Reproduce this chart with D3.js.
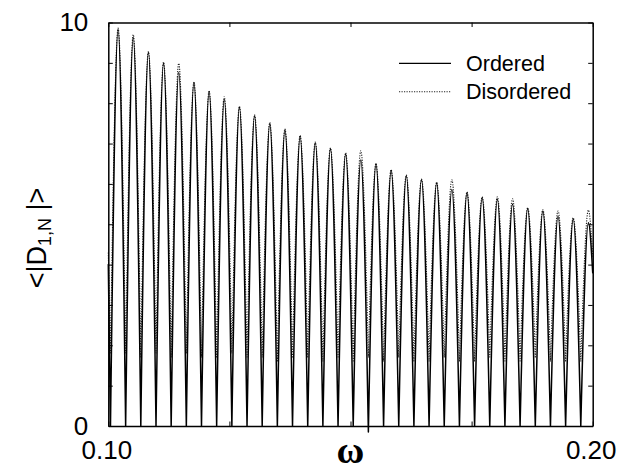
<!DOCTYPE html>
<html><head><meta charset="utf-8">
<script src="https://cdn.jsdelivr.net/npm/d3@7/dist/d3.min.js"></script>
<style>body{margin:0;background:#fff}svg{display:block}</style>
</head><body>
<svg id="c" width="622" height="466"></svg>
<script>
// ---- data ----
const omegaTrough = [0.10045,0.10358,0.10671,0.10985,0.11298,0.11611,0.11924,0.12237,0.12551,0.12864,
  0.13177,0.13490,0.13803,0.14117,0.14430,0.14743,0.15056,0.15369,0.15683,0.15996,
  0.16309,0.16622,0.16935,0.17249,0.17562,0.17875,0.18188,0.18501,0.18815,0.19128,
  0.19441,0.19754];
const omegaPeak = [0.10202,0.10515,0.10828,0.11141,0.11454,0.11768,0.12081,0.12394,0.12707,0.13020,
  0.13334,0.13647,0.13960,0.14273,0.14586,0.14900,0.15213,0.15526,0.15839,0.16152,
  0.16466,0.16779,0.17092,0.17405,0.17718,0.18032,0.18345,0.18658,0.18971,0.19284,
  0.19598,0.19911];
const orderedPeak = [9.83,9.63,9.26,8.99,8.76,8.51,8.29,8.10,7.90,7.69,
  7.50,7.34,7.18,7.02,6.87,6.74,6.59,6.49,6.33,6.20,
  6.10,6.02,5.86,5.78,5.66,5.62,5.50,5.39,5.33,5.20,
  5.13,5.04];
const orderedTrough = [0,0,0,0,0,0,0,0,0,0,0,0,0,0,0,0,0,-0.15,0,0,0,0,0,0,0,0,0,0,0,0,0,0];
const disorderedPeak = [9.86,9.70,9.28,9.02,8.99,8.53,8.31,8.16,7.92,7.71,
  7.52,7.36,7.20,7.04,6.89,6.77,6.82,6.51,6.35,6.22,
  6.12,6.04,6.10,5.80,5.68,5.68,5.63,5.41,5.36,5.33,
  5.16,5.35];
const disorderedTrough = [1.8,1.8,1.7,1.8,1.7,1.8,1.7,1.7,1.8,1.7,1.7,1.6,1.7,1.7,1.6,1.7,
  1.6,1.7,1.6,1.7,1.6,1.6,1.7,1.6,1.6,1.7,1.6,1.6,1.7,1.6,1.6,1.6];
const edgeOmega = [0.10, 0.20];
const orderedEdge = [4.0, 3.8];
const disorderedEdge = [4.3, 4.2];
const xTicks = [0.10,0.125,0.15,0.175,0.20];
const xTickLabels = {"0.1":"0.10","0.2":"0.20"};
const yTicks = [0,1,2,3,4,5,6,7,8,9,10];
const yTickLabels = {"0":"0","10":"10"};
const seriesNames = ["Ordered","Disordered"];

// ---- layout ----
const svg = d3.select("#c");
const x = d3.scaleLinear().domain([0.10,0.20]).range([108.3,592.7]);
const y = d3.scaleLinear().domain([0,10]).range([426,22.5]);

function segments(peakV, troughV, edgeV){
  const segs = [];
  segs.push([[edgeOmega[0], edgeV[0]], [omegaTrough[0], troughV[0]]]);
  for (let i = 0; i < omegaPeak.length; i++){
    const next = i + 1 < omegaTrough.length ? [omegaTrough[i+1], troughV[i+1]] : [edgeOmega[1], edgeV[1]];
    segs.push([[omegaTrough[i], troughV[i]], [omegaPeak[i], peakV[i]], next]);
  }
  return segs;
}
const line = d3.line().x(d=>x(d[0])).y(d=>y(d[1])).curve(d3.curveMonotoneX);
function pathOf(segs){ return segs.map(s=>line(s)).join(""); }

svg.append("path").attr("d", pathOf(segments(disorderedPeak, disorderedTrough, disorderedEdge)))
  .attr("fill","none").attr("stroke","#222").attr("stroke-width",1.1).attr("stroke-dasharray","1.2,1.3");
svg.append("path").attr("d", pathOf(segments(orderedPeak, orderedTrough, orderedEdge)))
  .attr("fill","none").attr("stroke","#000").attr("stroke-width",1.5).attr("stroke-linecap","round");

// ---- axes ----
const font = "'Liberation Sans', Arial, sans-serif";
const fmtX = d => xTickLabels[String(+d.toFixed(3))] || "";
const fmtY = d => yTickLabels[String(d)] || "";
const gB = svg.append("g").attr("transform",`translate(0,${y(0)})`)
  .call(d3.axisBottom(x).tickValues(xTicks).tickSizeInner(-4.5).tickSizeOuter(0).tickPadding(15).tickFormat(fmtX));
const gT = svg.append("g").attr("transform",`translate(0,${y(10)})`)
  .call(d3.axisTop(x).tickValues(xTicks).tickSizeInner(-4.5).tickSizeOuter(0).tickFormat(""));
const gL = svg.append("g").attr("transform",`translate(${x(0.10)},0)`)
  .call(d3.axisLeft(y).tickValues(yTicks).tickSizeInner(-4.5).tickSizeOuter(0).tickPadding(20).tickFormat(fmtY));
const gR = svg.append("g").attr("transform",`translate(${x(0.20)},0)`)
  .call(d3.axisRight(y).tickValues(yTicks).tickSizeInner(-4.5).tickSizeOuter(0).tickFormat(""));
[gB,gT,gL,gR].forEach(g=>{
  g.select(".domain").attr("stroke","#000").attr("stroke-width",1.5);
  g.selectAll(".tick line").attr("stroke","#000").attr("stroke-width",1);
  g.selectAll("text").attr("font-family",font).attr("font-size",26).attr("fill","#000");
});
gB.selectAll("text").attr("dx",-2);

// ---- axis titles ----
svg.append("text").attr("x", x(0.15)).attr("y", 463).attr("text-anchor","middle")
  .attr("font-family","'Liberation Serif', 'DejaVu Serif', serif").attr("font-weight","bold")
  .attr("font-size",38).text("ω");
const yl = svg.append("text").attr("transform","translate(46,238) rotate(-90)")
  .attr("text-anchor","middle").attr("font-family",font).attr("font-size",27);
yl.append("tspan").text("<|D");
yl.append("tspan").attr("font-size",18).attr("dy",5).text("1,N");
yl.append("tspan").attr("dy",-5).text(" |>");

// ---- legend ----
const leg = svg.append("g");
const legY = [63.3, 91.7];
leg.append("line").attr("x1",399).attr("x2",451).attr("y1",legY[0]).attr("y2",legY[0])
  .attr("stroke","#000").attr("stroke-width",1.3);
leg.append("line").attr("x1",399).attr("x2",451).attr("y1",legY[1]).attr("y2",legY[1])
  .attr("stroke","#222").attr("stroke-width",1.1).attr("stroke-dasharray","1.2,1.3");
seriesNames.forEach((n,i)=>{
  leg.append("text").attr("x",466).attr("y",legY[i]+7.5).attr("font-family",font)
    .attr("font-size",21.5).attr("fill","#000").text(n);
});
</script>
</body></html>
